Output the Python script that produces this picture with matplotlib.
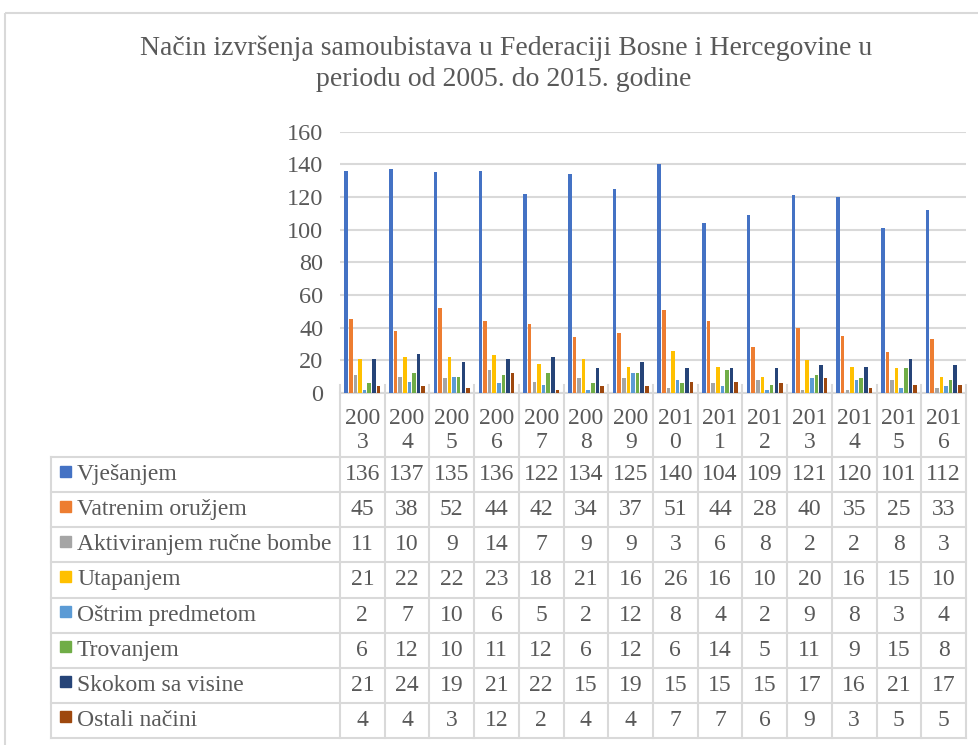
import numpy as np
import matplotlib.pyplot as plt
from matplotlib.patches import Rectangle

plt.rcParams['font.family'] = ['Liberation Serif', 'DejaVu Serif']

# Podaci
years = ['2003', '2004', '2005', '2006', '2007', '2008', '2009',
         '2010', '2011', '2012', '2013', '2014', '2015', '2016']
methods = ['Vješanjem', 'Vatrenim oružjem', 'Aktiviranjem ručne bombe',
           'Utapanjem', 'Oštrim predmetom', 'Trovanjem',
           'Skokom sa visine', 'Ostali načini']
vjesanjem = [136, 137, 135, 136, 122, 134, 125, 140, 104, 109, 121, 120, 101, 112]
vatreno = [45, 38, 52, 44, 42, 34, 37, 51, 44, 28, 40, 35, 25, 33]
bomba = [11, 10, 9, 14, 7, 9, 9, 3, 6, 8, 2, 2, 8, 3]
utapanje = [21, 22, 22, 23, 18, 21, 16, 26, 16, 10, 20, 16, 15, 10]
ostro = [2, 7, 10, 6, 5, 2, 12, 8, 4, 2, 9, 8, 3, 4]
trovanje = [6, 12, 10, 11, 12, 6, 12, 6, 14, 5, 11, 9, 15, 8]
skok = [21, 24, 19, 21, 22, 15, 19, 15, 15, 15, 17, 16, 21, 17]
ostali = [4, 4, 3, 12, 2, 4, 4, 7, 7, 6, 9, 3, 5, 5]
series = [vjesanjem, vatreno, bomba, utapanje, ostro, trovanje, skok, ostali]
colors = ['#4472C4', '#ED7D31', '#A5A5A5', '#FFC000',
          '#5B9BD5', '#70AD47', '#264478', '#9E480E']

W, H = 979, 745
txt = '#595959'
grid = '#d9d9d9'
fs = 17

fig = plt.figure(figsize=(W / 100, H / 100), dpi=100)

# pozadinski sloj u pikselima (okvir + tabela)
bg = fig.add_axes([0, 0, 1, 1])
bg.set_xlim(0, W)
bg.set_ylim(H, 0)
bg.axis('off')
bg.add_patch(Rectangle((5, 13), W, H, fill=False, edgecolor=grid, lw=1.5))

# graf
x0, x1 = 340, 966
y0, ytop = 393, 131.5
ax = fig.add_axes([x0 / W, 1 - y0 / H, (x1 - x0) / W, (y0 - ytop) / H])
x = np.arange(len(years))
n = len(series)
for j, (vals, c) in enumerate(zip(series, colors)):
    ax.bar(x + (j - (n - 1) / 2) * 0.103, vals, width=0.08, color=c, zorder=3)
ax.set_xlim(-0.5, len(years) - 0.5)
ax.set_ylim(0, 160)
ax.set_yticks(np.arange(0, 161, 20))
ax.set_xticks([])
ax.grid(axis='y', color=grid, lw=1.5, zorder=0)
ax.tick_params(axis='y', length=0, pad=12, labelsize=17.5, labelcolor=txt)
for s in ax.spines.values():
    s.set_visible(False)
ax.patch.set_alpha(0)

# naslov
fig.text(506 / W, 1 - 48 / H,
         'Način izvršenja samoubistava u Federaciji Bosne i Hercegovine u',
         ha='center', va='center', fontsize=20, color=txt)
fig.text(504 / W, 1 - 80 / H, 'periodu od 2005. do 2015. godine',
         ha='center', va='center', fontsize=20, color=txt)

# tabela podataka
col_w = (x1 - x0) / len(years)
head_bot = 457
row_h = (738 - head_bot) / len(methods)
tab_left = 51
bot = head_bot + row_h * len(methods)

bg.plot([x0, x1], [y0, y0], color=grid, lw=1.5)
for i in range(len(years) + 1):
    xc = x0 + i * col_w
    bg.plot([xc, xc], [385, bot], color=grid, lw=1.5)
bg.plot([tab_left, tab_left], [head_bot, bot], color=grid, lw=1.5)
for r in range(len(methods) + 1):
    yr = head_bot + r * row_h
    bg.plot([tab_left, x1], [yr, yr], color=grid, lw=1.5)

for i, yr in enumerate(years):
    xc = x0 + (i + 0.5) * col_w
    bg.text(xc, 418, yr[:3], ha='center', va='center', fontsize=fs, color=txt)
    bg.text(xc, 442, yr[3:], ha='center', va='center', fontsize=fs, color=txt)

for r, (m, vals, c) in enumerate(zip(methods, series, colors)):
    yc = head_bot + (r + 0.5) * row_h
    bg.add_patch(Rectangle((60, yc - 9), 11, 11, color=c))
    bg.text(77, yc, m, ha='left', va='center', fontsize=fs, color=txt)
    for i, v in enumerate(vals):
        bg.text(x0 + (i + 0.5) * col_w, yc, str(v), ha='center', va='center',
                fontsize=fs, color=txt)

fig.savefig('out.png', dpi=100)
